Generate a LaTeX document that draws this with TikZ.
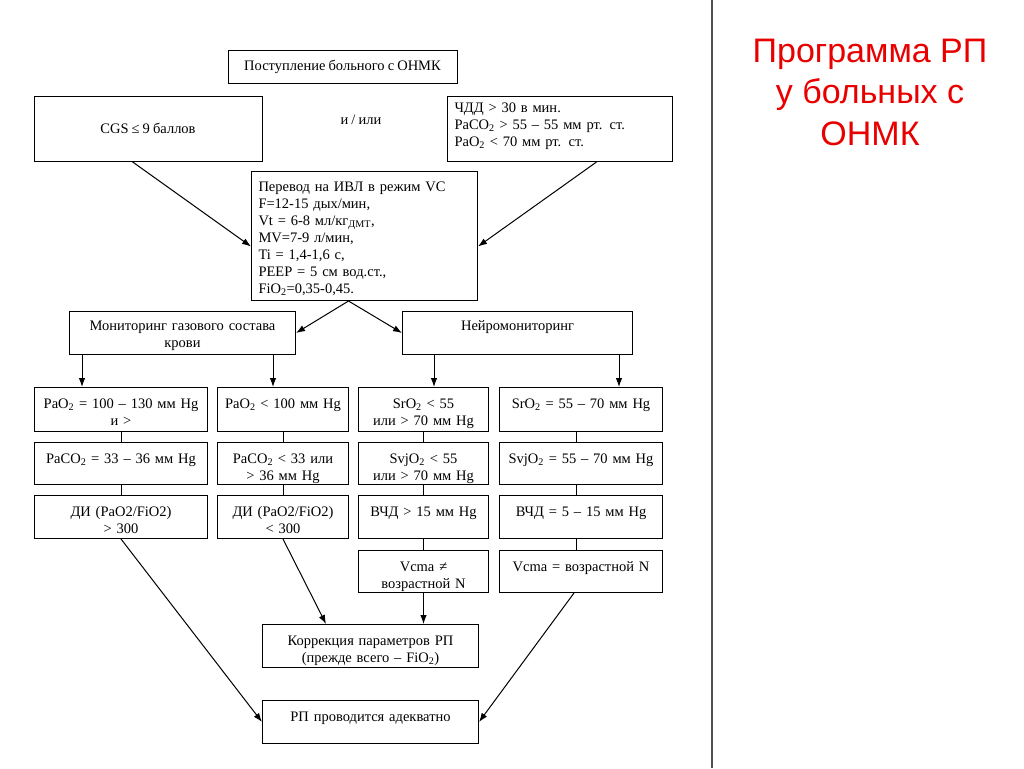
\documentclass[tikz,border=0pt]{standalone}
\usepackage{fontspec}
\setmainfont{Liberation Serif}[WordSpace=0.85]
\newfontfamily\titlefont{Liberation Sans}
\usetikzlibrary{arrows.meta}
\definecolor{titlered}{RGB}{232,0,0}
\definecolor{sepgray}{RGB}{80,80,80}

\begin{document}
\begin{tikzpicture}
	[x=1pt, y=-1pt, font=\fontsize{14.5}{17}\selectfont, line width=1pt,
	box/.style ={draw, rectangle, align=center, inner sep=0pt},
	cell/.style ={draw, rectangle, anchor=north west, align=center, inner xsep=0pt, inner ysep=0pt, text height=20.5pt},
	arr/.style ={-{Latex[length=9pt,width=6.5pt]}},
	title/.style ={text=titlered, align=center, font=\titlefont\fontsize{34}{41.5}\selectfont}];
	\useasboundingbox (0,0) rectangle (1024,768);

	% top of the scheme
	\node [box, minimum width=229pt, minimum height=32pt] (postuplenie) at (342.5,67) {Поступление больного с ОНМК};
	\node [box, minimum width=228pt, minimum height=65pt] (cgs) at (148,128.5) {CGS ≤ 9 баллов};
	\node (iili) at (361,120) {и / или};
	\node [cell, align=left, inner xsep=7pt, text width=211pt, text height=15.5pt, text depth=49.5pt] (chdd) at (447,96)
		{ЧДД > 30 в мин.\\PaCO\textsubscript{2} > 55 – 55 мм рт. ст.\\PaO\textsubscript{2} < 70 мм рт. ст.};
	\node [cell, align=left, inner xsep=7pt, text width=212pt, text height=19.5pt, text depth=109.5pt] (perevod) at (251,171)
		{Перевод на ИВЛ в режим VC\\F=12-15 дых/мин,\\Vt = 6-8 мл/кг\textsubscript{ДМТ},\\MV=7-9 л/мин,\\Ti = 1,4-1,6 с,\\PEEP = 5 см вод.ст.,\\FiO\textsubscript{2}=0,35-0,45.};
	\node [cell, text width=226pt, text height=18.5pt, text depth=24.5pt] (gazmon) at (69,311) {Мониторинг газового состава\\крови};
	\node [cell, text width=230pt, text height=18.5pt, text depth=24.5pt] (neiromon) at (402,311) {Нейромониторинг};

	% blood gases, normal
	\node [cell, text width=173pt, text depth=23.5pt] (pao2norm) at (34,387) {PaO\textsubscript{2} = 100 – 130 мм Hg\\и >};
	\node [cell, text width=173pt, text depth=21.5pt] (paco2norm) at (34,442) {PaCO\textsubscript{2} = 33 – 36 мм Hg};
	\node [cell, text width=173pt, text depth=22.5pt] (dinorm) at (34,495) {ДИ (PaO2/FiO2)\\> 300};
	% blood gases, out of range
	\node [cell, text width=131pt, text depth=23.5pt] (pao2low) at (217,387) {PaO\textsubscript{2} < 100 мм Hg};
	\node [cell, text width=131pt, text depth=21.5pt] (paco2bad) at (217,442) {PaCO\textsubscript{2} < 33 или\\> 36 мм Hg};
	\node [cell, text width=131pt, text depth=22.5pt] (dilow) at (217,495) {ДИ (PaO2/FiO2)\\< 300};
	% neuromonitoring, out of range
	\node [cell, text width=130pt, text depth=23.5pt] (sro2bad) at (358,387) {SrO\textsubscript{2} < 55\\или > 70 мм Hg};
	\node [cell, text width=130pt, text depth=21.5pt] (svjo2bad) at (358,442) {SvjO\textsubscript{2} < 55\\или > 70 мм Hg};
	\node [cell, text width=130pt, text depth=22.5pt] (vchdhigh) at (358,495) {ВЧД > 15 мм Hg};
	\node [cell, text width=130pt, text depth=21.5pt] (vcmabad) at (358,550) {Vcma ≠\\возрастной N};
	% neuromonitoring, normal
	\node [cell, text width=163pt, text depth=23.5pt] (sro2norm) at (499,387) {SrO\textsubscript{2} = 55 – 70 мм Hg};
	\node [cell, text width=163pt, text depth=21.5pt] (svjo2norm) at (499,442) {SvjO\textsubscript{2} = 55 – 70 мм Hg};
	\node [cell, text width=163pt, text depth=22.5pt] (vchdnorm) at (499,495) {ВЧД = 5 – 15 мм Hg};
	\node [cell, text width=163pt, text depth=21.5pt] (vcmanorm) at (499,550) {Vcma = возрастной N};

	% outcome
	\node [cell, text width=216pt, text depth=22.5pt] (korrekcia) at (262,624) {Коррекция параметров РП\\(прежде всего – FiO\textsubscript{2})};
	\node [cell, text width=216pt, text depth=22.5pt] (adekvatno) at (262,700) {РП проводится адекватно};

	\node [title] (title) at (870,92) {Программа РП\\у больных с\\ОНМК};
	\draw [sepgray, line width=1.2pt] (712,0) -- (712,768);

	% connectors
	\draw [arr] ([xshift=-16pt]cgs.south) -- ([yshift=-10.5pt]perevod.west);
	\draw [arr] ([xshift=36.5pt]chdd.south) -- ([yshift=-10.5pt]perevod.east);
	\draw [arr] ([xshift=-16pt]perevod.south) -- (gazmon.east);
	\draw [arr] ([xshift=-16pt]perevod.south) -- (neiromon.west);
	\coordinate (gaz1) at ([xshift=13pt]gazmon.south west);
	\coordinate (gaz2) at ([xshift=-23pt]gazmon.south east);
	\coordinate (neiro1) at ([xshift=32pt]neiromon.south west);
	\coordinate (neiro2) at ([xshift=-14pt]neiromon.south east);
	\draw [arr] (gaz1) -- (gaz1 |- pao2norm.north);
	\draw [arr] (gaz2) -- (gaz2 |- pao2low.north);
	\draw [arr] (neiro1) -- (neiro1 |- sro2bad.north);
	\draw [arr] (neiro2) -- (neiro2 |- sro2norm.north);
	\foreach \a/\b in {pao2norm/paco2norm, paco2norm/dinorm, pao2low/paco2bad, paco2bad/dilow,
		sro2bad/svjo2bad, svjo2bad/vchdhigh, vchdhigh/vcmabad}
		\draw (\a) -- (\b);
	\foreach \a/\b in {sro2norm/svjo2norm, svjo2norm/vchdnorm, vchdnorm/vcmanorm}
		\draw ([xshift=-4.5pt]\a.south) -- ([xshift=-4.5pt]\b.north);
	\draw [arr] (dilow.south) -- ([xshift=64pt]korrekcia.north west);
	\draw [arr] (vcmabad.south) -- (vcmabad.south |- korrekcia.north);
	\draw [arr] (dinorm.south) -- (adekvatno.west);
	\draw [arr] ([xshift=-7pt]vcmanorm.south) -- (adekvatno.east);
\end{tikzpicture}
\end{document}
